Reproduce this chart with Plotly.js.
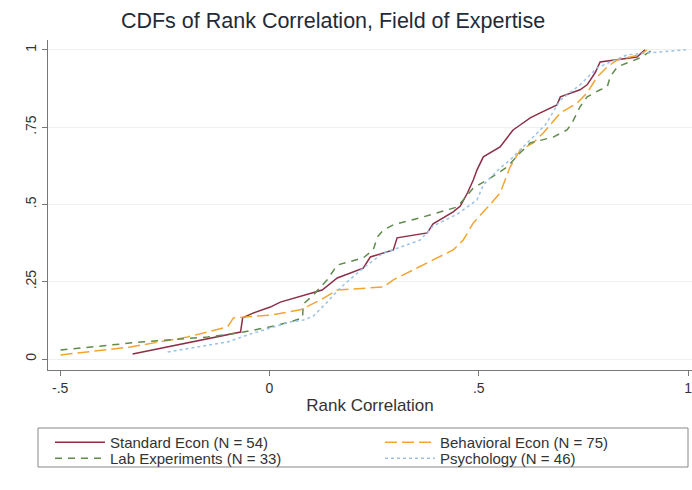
<!DOCTYPE html>
<html>
<head>
<meta charset="utf-8">
<script src="https://cdn.plot.ly/plotly-3.0.1.min.js"></script>
<style>html,body{margin:0;padding:0;background:#fff;}#chart{width:692px;height:490px;}</style>
</head>
<body>
<div id="chart"></div>
<script>
// ---- Data ----
var stdX = [-0.327,-0.165,-0.069,-0.064,-0.038,0.002,0.026,0.126,0.162,0.224,0.241,0.296,0.305,0.377,0.391,0.439,0.456,0.473,0.487,0.496,0.511,0.551,0.582,0.599,0.623,0.647,0.687,0.695,0.742,0.759,0.778,0.790,0.878,0.897];
var stdY = [0.016,0.061,0.087,0.133,0.149,0.168,0.184,0.223,0.262,0.294,0.330,0.353,0.392,0.408,0.437,0.476,0.495,0.537,0.579,0.612,0.654,0.686,0.741,0.757,0.780,0.796,0.822,0.848,0.871,0.887,0.926,0.961,0.977,1.0];

var behX = [-0.499,-0.332,-0.196,-0.100,-0.086,0.002,0.074,0.122,0.162,0.272,0.296,0.353,0.408,0.439,0.463,0.487,0.520,0.551,0.575,0.599,0.630,0.654,0.675,0.695,0.735,0.759,0.783,0.807,0.831,0.885,0.902];
var behY = [0.013,0.039,0.071,0.104,0.133,0.142,0.159,0.191,0.223,0.233,0.256,0.294,0.330,0.353,0.385,0.440,0.489,0.537,0.621,0.676,0.699,0.731,0.764,0.796,0.828,0.861,0.913,0.945,0.968,0.984,1.0];

var labX = [-0.499,-0.308,-0.148,-0.062,0.002,0.050,0.079,0.081,0.105,0.138,0.162,0.224,0.248,0.258,0.272,0.296,0.368,0.449,0.487,0.520,0.568,0.599,0.623,0.678,0.711,0.723,0.742,0.759,0.790,0.807,0.814,0.831,0.885,0.916];
var labY = [0.029,0.055,0.071,0.087,0.104,0.120,0.133,0.178,0.207,0.256,0.304,0.327,0.353,0.395,0.417,0.434,0.460,0.492,0.553,0.579,0.621,0.667,0.699,0.718,0.741,0.764,0.816,0.848,0.871,0.880,0.913,0.945,0.974,1.0];

var psyX = [-0.243,-0.100,-0.045,0.002,0.050,0.081,0.105,0.138,0.169,0.224,0.272,0.313,0.360,0.391,0.449,0.496,0.511,0.551,0.575,0.623,0.659,0.695,0.742,0.783,0.854,0.995];
var psyY = [0.023,0.055,0.081,0.100,0.120,0.126,0.139,0.184,0.230,0.294,0.343,0.362,0.385,0.430,0.469,0.515,0.563,0.618,0.644,0.709,0.757,0.838,0.887,0.942,0.984,1.0];

var seriesNames = ["Standard Econ (N = 54)", "Behavioral Econ (N = 75)", "Lab Experiments (N = 33)", "Psychology (N = 46)"];
var xTickVals = [-0.5, 0, 0.5, 1];
var xTickText = ["-.5", "0", ".5", "1"];
var yTickVals = [0, 0.25, 0.5, 0.75, 1];
var yTickText = ["0", ".25", ".5", ".75", "1"];

// ---- Layout helpers (pixels) ----
var W = 692, H = 490;
var mL = 48, mR = 0, mT = 40, mB = 120;
function px2paperX(p){ return (p - mL) / (W - mL - mR); }
function px2paperY(p){ return (H - mB - p) / (H - mT - mB); }

var font = "Liberation Sans, Arial, sans-serif";

var traces = [
  {x: stdX, y: stdY, name: seriesNames[0], mode: "lines", legend: "legend", showlegend: true,
   line: {color: "#8b2f47", width: 1.5}},
  {x: behX, y: behY, name: seriesNames[1], mode: "lines", legend: "legend2", showlegend: true,
   line: {color: "#f2a531", width: 1.5, dash: "12px,5px"}},
  {x: labX, y: labY, name: seriesNames[2], mode: "lines", legend: "legend3", showlegend: true,
   line: {color: "#5f8b4c", width: 1.5, dash: "7px,6px"}},
  {x: psyX, y: psyY, name: seriesNames[3], mode: "lines", legend: "legend4", showlegend: true,
   line: {color: "#9cc3e6", width: 1.5, dash: "dot"}}
];

function legendAt(xpx, ytoppx){
  return {
    visible: true,
    xref: "container", yref: "container",
    x: xpx / W, y: 1 - ytoppx / H,
    yanchor: "top", xanchor: "left",
    bgcolor: "rgba(0,0,0,0)", borderwidth: 0,
    font: {family: font, size: 15, color: "#333"},
    itemwidth: 50
  };
}

var layout = {
  width: W, height: H,
  showlegend: true,
  margin: {l: mL, r: mR, t: mT, b: mB, autoexpand: false},
  paper_bgcolor: "#fff", plot_bgcolor: "#fff",
  font: {family: font, color: "#333"},
  title: {text: "CDFs of Rank Correlation, Field of Expertise",
          x: 333 / W, xref: "container", xanchor: "center",
          y: 1 - 20 / H, yref: "container", yanchor: "middle",
          font: {family: font, size: 21.5, color: "#1f2b38"}},
  xaxis: {range: [-0.529, 1.0095], tickvals: xTickVals, ticktext: xTickText,
          ticklabeloverflow: "allow",
          showline: true, linecolor: "#777", linewidth: 1, ticks: "outside", ticklen: 5,
          tickcolor: "#777", showgrid: false, zeroline: false,
          tickfont: {size: 14, color: "#333"},
          title: {text: "Rank Correlation", font: {size: 17, color: "#333"}, standoff: 4}},
  yaxis: {range: [-0.0356, 1.032], tickvals: yTickVals, ticktext: yTickText, tickangle: -90,
          showline: true, linecolor: "#777", linewidth: 1, ticks: "outside", ticklen: 5,
          tickcolor: "#777", showgrid: true, gridcolor: "#eef0f0", zeroline: false,
          tickfont: {size: 14, color: "#333"}},
  legend: legendAt(50, 426),
  legend2: legendAt(380, 426),
  legend3: legendAt(50, 442),
  legend4: legendAt(380, 442),
  shapes: [{type: "rect", xref: "paper", yref: "paper",
            x0: px2paperX(38), x1: px2paperX(688), y0: px2paperY(428), y1: px2paperY(467),
            line: {color: "#888", width: 1}, fillcolor: "rgba(0,0,0,0)", layer: "above"}]
};

Plotly.newPlot("chart", traces, layout, {displayModeBar: false, staticPlot: true});
</script>
</body>
</html>
